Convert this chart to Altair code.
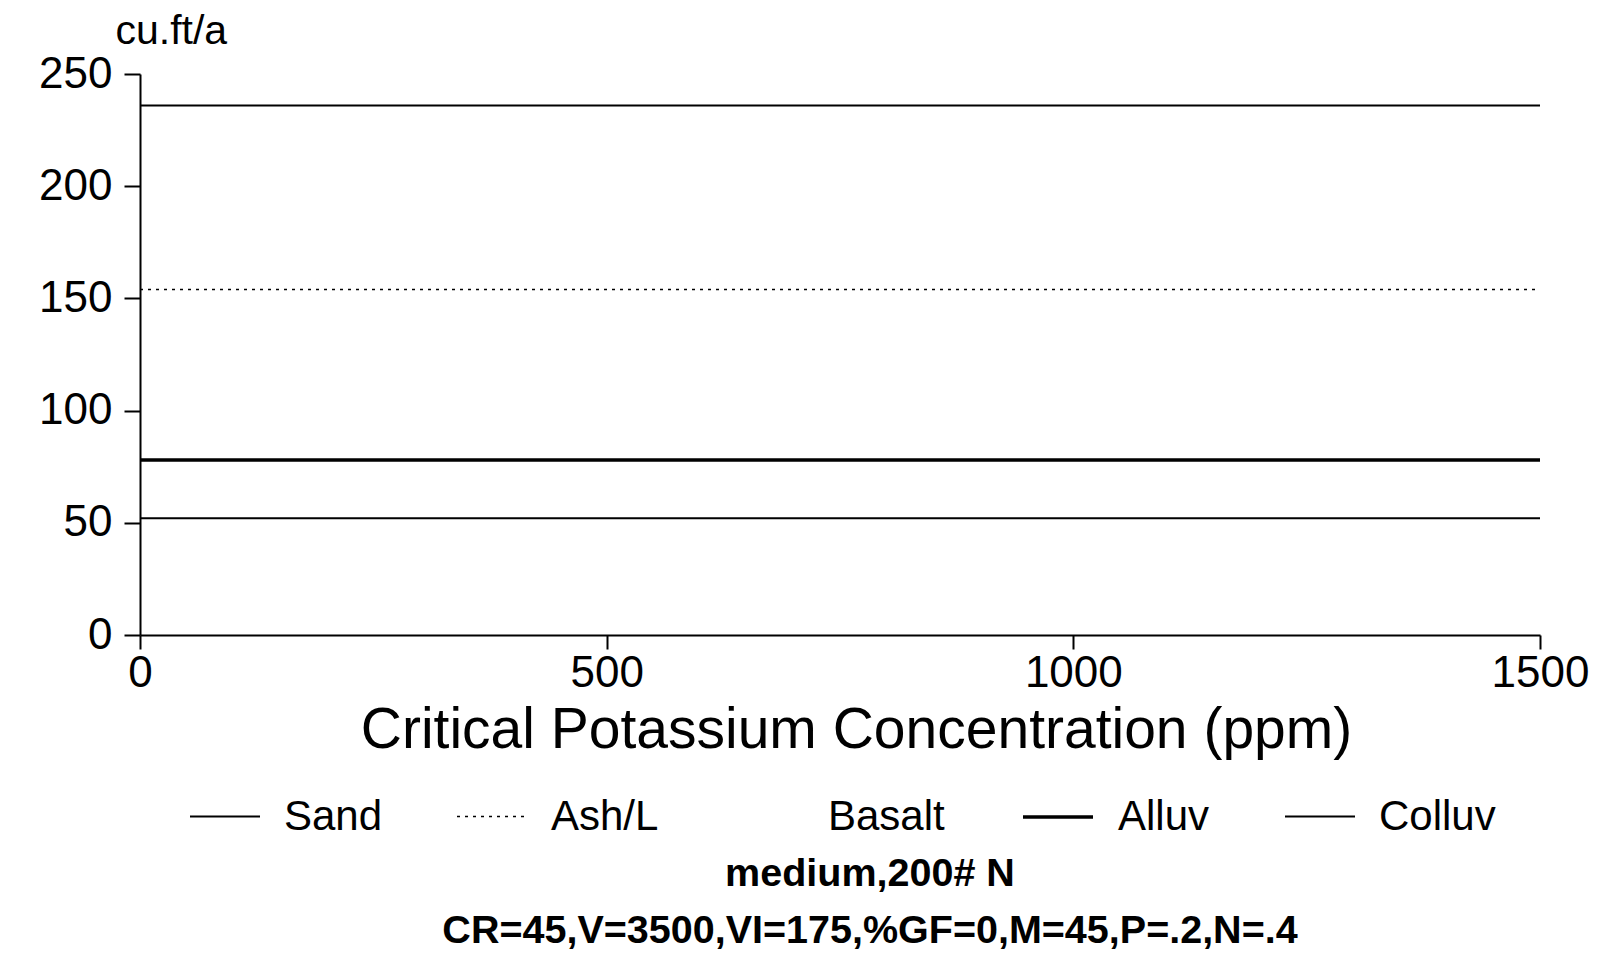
import altair as alt
import pandas as pd

# Data
soils = ["Sand", "Ash/L", "Basalt", "Alluv", "Colluv"]
values = [236, 154, 0, 78, 52]          # cu.ft/a (constant over the K range)
k_range = [0, 1500]                     # Critical Potassium Concentration (ppm)
x_ticks = [0, 500, 1000, 1500]
y_ticks = [0, 50, 100, 150, 200, 250]

rows = []
for s, v in zip(soils, values):
    for k in k_range:
        rows.append({"soil": s, "ppm": k, "cuft": v})
df = pd.DataFrame(rows)

FONT = "Liberation Sans"

chart = alt.Chart(df).mark_line(strokeCap="butt").encode(
    x=alt.X("ppm:Q",
            scale=alt.Scale(domain=[0, 1500], nice=False, zero=False),
            axis=alt.Axis(values=x_ticks, format="d",
                          title="Critical Potassium Concentration (ppm)",
                          titleFontSize=57, titleFontWeight="normal", titleFont=FONT,
                          titleColor="black", titleBaseline="alphabetic", titleY=112,
                          titleX=716, titleAlign="center",
                          labelFontSize=44, labelFont=FONT, labelColor="black",
                          labelPadding=2, tickSize=14, tickWidth=2, tickColor="black",
                          domainColor="black", domainWidth=2, grid=False,
                          labelFlush=False)),
    y=alt.Y("cuft:Q",
            scale=alt.Scale(domain=[0, 250], nice=False),
            axis=alt.Axis(values=y_ticks, title="cu.ft/a", titleAngle=0,
                          titleAlign="left", titleBaseline="alphabetic",
                          titleX=-25, titleY=-31, titleFontSize=41,
                          titleFontWeight="normal", titleFont=FONT, titleColor="black",
                          labelFontSize=44, labelFont=FONT, labelColor="black",
                          labelPadding=12, tickSize=16, tickWidth=2, tickColor="black",
                          domainColor="black", domainWidth=2, grid=False)),
    color=alt.Color("soil:N",
                    scale=alt.Scale(domain=soils,
                                    range=["black", "black", "transparent", "black", "black"]),
                    sort=soils, legend=alt.Legend(title=None)),
    strokeDash=alt.StrokeDash("soil:N",
                              scale=alt.Scale(domain=soils,
                                              range=[[1, 0], [3, 5], [1, 0], [1, 0], [1, 0]]),
                              sort=soils, legend=alt.Legend(title=None)),
    strokeWidth=alt.StrokeWidth("soil:N",
                                scale=alt.Scale(type="ordinal", domain=soils,
                                                range=[2, 1.5, 2, 3.5, 2]),
                                sort=soils, legend=alt.Legend(title=None)),
).properties(
    width=1400,
    height=561,
    background="white",
    autosize=alt.AutoSizeParams(type="none"),
    padding={"left": 140, "top": 74, "right": 67, "bottom": 340},
    title=alt.Title(
        text=["medium,200# N", "CR=45,V=3500,VI=175,%GF=0,M=45,P=.2,N=.4"],
        orient="bottom", anchor="middle", font=FONT, fontSize=39.5,
        fontWeight="bold", color="black", lineHeight=57, offset=17, dx=30,
    ),
).configure_legend(
    orient="none", legendX=49, legendY=706, direction="horizontal",
    symbolType="stroke", symbolSize=4900, symbolStrokeColor="black",
    labelFont=FONT, labelFontSize=42, labelColor="black", labelOffset=23,
    columnPadding=71, labelLimit=400,
).configure_view(stroke=None)

chart.save("out.html", embed_options={"renderer": "svg", "actions": False})
